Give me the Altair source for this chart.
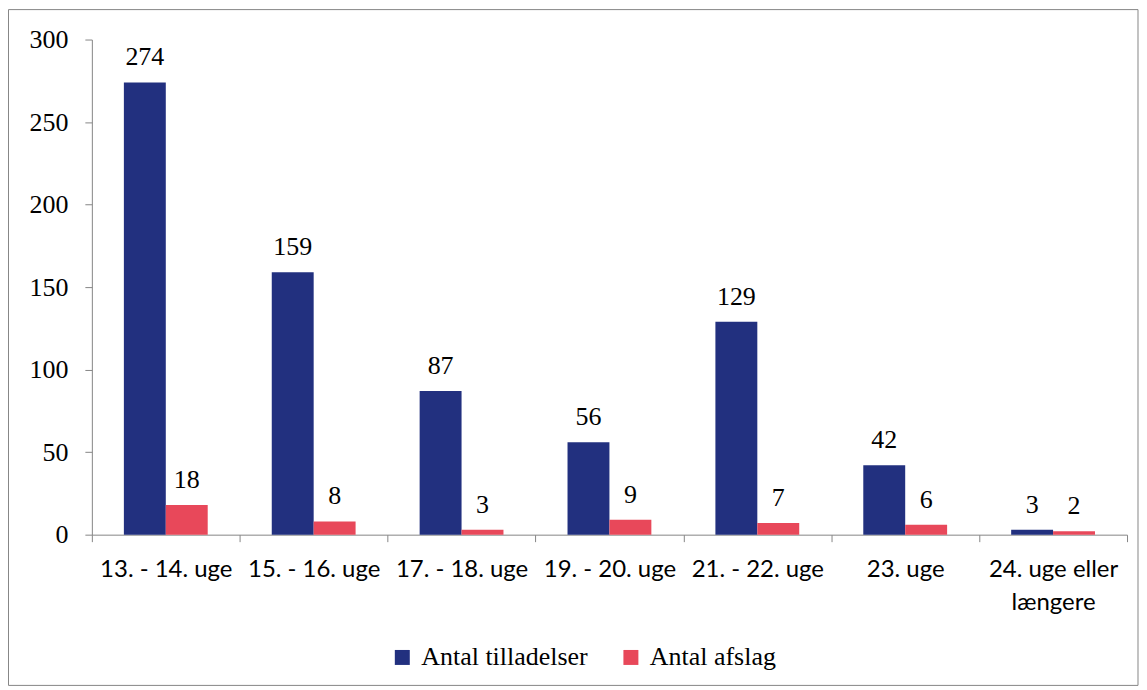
import altair as alt
import pandas as pd

categories = ["13. - 14. uge", "15. - 16. uge", "17. - 18. uge", "19. - 20. uge",
              "21. - 22. uge", "23. uge", "24. uge eller længere"]
series_names = ["Antal tilladelser", "Antal afslag"]
tilladelser = [274, 159, 87, 56, 129, 42, 3]
afslag = [18, 8, 3, 9, 7, 6, 2]
colors = ["#22307F", "#E8485A"]
y_ticks = [0, 50, 100, 150, 200, 250, 300]

rows = []
for c, a, b in zip(categories, tilladelser, afslag):
    rows.append({"kategori": c, "serie": series_names[0], "antal": a})
    rows.append({"kategori": c, "serie": series_names[1], "antal": b})
df = pd.DataFrame(rows)

SERIF = "Liberation Serif"
SANS = "Lato"
GRAY = "#868686"
W, H = 1037, 496
FS = 26

x = alt.X(
    "kategori:N", sort=categories, title=None,
    scale=alt.Scale(paddingInner=0, paddingOuter=0),
    axis=alt.Axis(
        labelAngle=0, tickBand="extent", tickSize=7, tickColor=GRAY,
        domainColor=GRAY, labelFont=SANS, labelFontSize=24, labelColor="black",
        labelPadding=16, labelLineHeight=33, labelLimit=300,
        labelExpr="datum.value == '24. uge eller længere' ? ['24. uge eller', 'længere'] : datum.label",
    ),
)
y = alt.Y(
    "antal:Q", title=None,
    scale=alt.Scale(domain=[0, 300], nice=False),
    axis=alt.Axis(values=y_ticks, grid=False, tickSize=7, tickColor=GRAY,
                  domainColor=GRAY, labelFont=SERIF, labelFontSize=FS,
                  labelColor="black", labelPadding=17),
)
xo = alt.XOffset("serie:N", sort=series_names,
                 scale=alt.Scale(paddingInner=0, paddingOuter=0.764))

base = alt.Chart(df).encode(x=x, y=y, xOffset=xo)

bars = base.mark_bar().encode(
    color=alt.Color(
        "serie:N", sort=series_names,
        scale=alt.Scale(domain=series_names, range=colors),
        legend=alt.Legend(
            title=None, orient="none", legendX=298, legendY=606,
            direction="horizontal", symbolType="square", symbolSize=225,
            symbolStrokeWidth=0, labelFont=SERIF, labelFontSize=FS,
            labelColor="black", columnPadding=30, labelOffset=6, labelLimit=400,
        ),
    )
)

labels = base.mark_text(
    baseline="alphabetic", dy=-17, font=SERIF, fontSize=FS, color="black"
).encode(text="antal:Q")

border = alt.Chart(pd.DataFrame({"b": [0]})).mark_rect(
    fill="transparent", stroke=GRAY, strokeWidth=1
).encode(x=alt.value(-83.5), x2=alt.value(1048), y=alt.value(-30), y2=alt.value(647))

chart = alt.layer(border, bars, labels).properties(
    width=W, height=H,
    padding={"left": 84, "top": 31, "right": 12, "bottom": 152},
    autosize=alt.AutoSizeParams(type="none"),
).configure_view(strokeWidth=0)

chart.save("out.html", embed_options={"renderer": "svg", "actions": False})
